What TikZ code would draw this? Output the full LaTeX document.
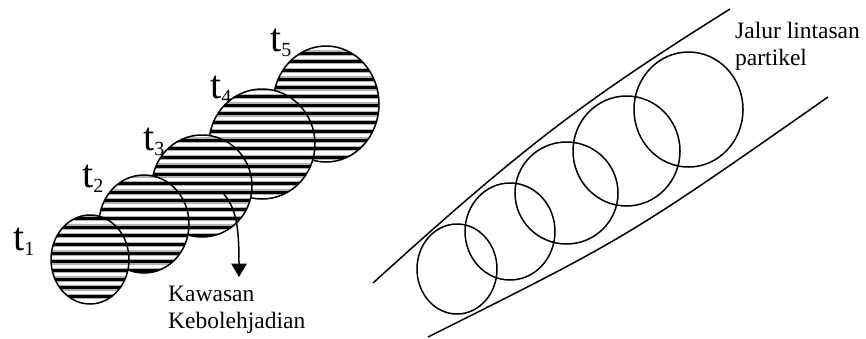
\documentclass[tikz,border=0pt]{standalone}
\usepackage{fontspec}
\setmainfont{Liberation Serif}
\usetikzlibrary{arrows.meta}

\tikzset{
  outline/.style={line width=1.5pt},
  stripegray/.style={gray!60, line width=5.5pt},
  stripeblack/.style={black, line width=3pt},
  tlab/.style={anchor=base west, inner sep=0pt},
  caption/.style={anchor=north west, inner sep=0pt, align=left, font=\fontsize{23.5}{27}\selectfont},
  probarrow/.style={line width=1.5pt, -{Triangle[length=13.5pt, width=15.5pt]}}
}
\newcommand{\tstep}[1]{{\fontsize{40}{40}\selectfont t}\raisebox{-5pt}{\fontsize{20}{20}\selectfont #1}}

\begin{document}
\begin{tikzpicture}[x=1pt, y=-1pt]
  \useasboundingbox (0,0) rectangle (866,338);

  % probability regions, drawn from back (t5) to front (t1)
  \foreach \cx/\cy/\rx/\ry in {326/104/53/58, 262/144/53/55, 202/186/50/51, 144/224/45/49, 90/259.5/39/44.5}{
    \begin{scope}
      \clip (\cx,\cy) ellipse [x radius=\rx, y radius=\ry];
      \fill[white] (\cx,\cy) ellipse [x radius=\rx, y radius=\ry];
      \foreach \k in {0,...,38}{
        \draw[stripegray] (\cx-\rx,0.8+\k*8.7) -- (\cx+\rx,0.8+\k*8.7);
        \draw[stripeblack] (\cx-\rx,0.8+\k*8.7) -- (\cx+\rx,0.8+\k*8.7);
      }
    \end{scope}
    \draw[outline] (\cx,\cy) ellipse [x radius=\rx, y radius=\ry];
  }

  \node[tlab] (t1) at (13,250) {\tstep{1}};
  \node[tlab] (t2) at (82,187) {\tstep{2}};
  \node[tlab] (t3) at (143,150) {\tstep{3}};
  \node[tlab] (t4) at (210,98) {\tstep{4}};
  \node[tlab] (t5) at (270,51) {\tstep{5}};

  \coordinate (probstart) at (223,193);
  \coordinate (probend) at (239,277);
  \draw[probarrow] (probstart) .. controls (236,208) and (239,225) .. (probend);
  \node[caption] (kawasan) at (168,286) {Kawasan\\Kebolehjadian};

  % particle path
  \draw[outline] (373,283) .. controls (525,145) and (585,100) .. (730,9);
  \draw[outline] (428,337) .. controls (628,237) .. (828,97);

  \foreach \cx/\cy/\rx/\ry in {457/269/40/45, 510/231.5/45/48.5, 566.5/193/51.5/51, 626.5/151/53.5/55, 688.5/109.5/54.5/57.5}
    \draw[outline] (\cx,\cy) ellipse [x radius=\rx, y radius=\ry];

  \node[caption] (jalur) at (735,22) {Jalur lintasan\\partikel};
\end{tikzpicture}
\end{document}
